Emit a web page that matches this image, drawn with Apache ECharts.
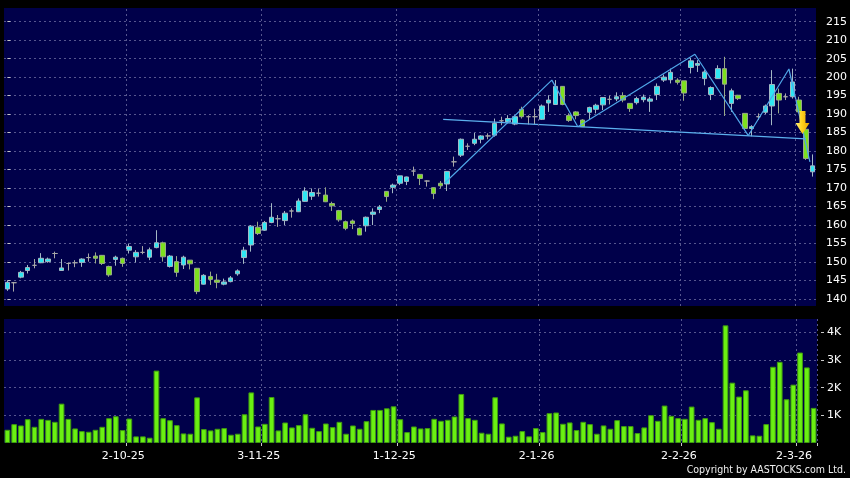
<!DOCTYPE html>
<html><head><meta charset="utf-8">
<script src="https://cdn.jsdelivr.net/npm/echarts@6/dist/echarts.min.js"></script>
<style>html,body{margin:0;padding:0;background:#000;}#c{width:850px;height:478px;}</style>
</head><body><div id="c"></div>
<script>
const dates = [
'5-9-25','8-9-25','9-9-25','10-9-25','11-9-25','12-9-25','15-9-25','16-9-25','17-9-25','18-9-25','19-9-25','22-9-25','23-9-25','24-9-25','25-9-25','26-9-25','29-9-25','30-9-25',
'2-10-25','3-10-25','6-10-25','8-10-25','9-10-25','10-10-25','13-10-25','14-10-25','15-10-25','16-10-25','17-10-25','20-10-25','21-10-25','22-10-25','23-10-25','24-10-25','27-10-25','28-10-25','30-10-25','31-10-25',
'3-11-25','4-11-25','5-11-25','6-11-25','7-11-25','10-11-25','11-11-25','12-11-25','13-11-25','14-11-25','17-11-25','18-11-25','19-11-25','20-11-25','21-11-25','24-11-25','25-11-25','26-11-25','27-11-25','28-11-25',
'1-12-25','2-12-25','3-12-25','4-12-25','5-12-25','8-12-25','9-12-25','10-12-25','11-12-25','12-12-25','15-12-25','16-12-25','17-12-25','18-12-25','19-12-25','22-12-25','23-12-25','24-12-25','29-12-25','30-12-25','31-12-25',
'2-1-26','5-1-26','6-1-26','7-1-26','8-1-26','9-1-26','12-1-26','13-1-26','14-1-26','15-1-26','16-1-26','19-1-26','20-1-26','21-1-26','22-1-26','23-1-26','26-1-26','27-1-26','28-1-26','29-1-26','30-1-26',
'2-2-26','3-2-26','4-2-26','5-2-26','6-2-26','9-2-26','10-2-26','11-2-26','12-2-26','13-2-26','16-2-26','20-2-26','23-2-26','24-2-26','25-2-26','26-2-26','27-2-26',
'2-3-26','3-3-26','4-3-26'];

const opens = [142.7,144.4,145.9,147.7,149.1,149.8,150.1,152.3,147.7,149.6,
149.8,149.9,151.2,151.6,151.8,148.8,150.7,151.0,153.2,151.4,
152.6,151.3,153.9,155.2,148.8,150.1,149.2,150.5,148.3,144.0,
146.1,145.1,144.0,144.7,146.8,151.2,154.6,159.4,158.6,160.7,
161.7,161.2,163.8,163.6,166.4,167.8,168.6,168.1,165.8,163.9,
160.9,161.1,159.1,159.8,162.9,164.2,169.1,170.2,171.3,171.8,
174.6,173.7,171.9,170.1,171.3,171.1,177.1,178.9,181.3,182.1,
183.2,184.1,184.3,188.2,187.9,187.3,191.3,189.3,189.3,188.6,
193.0,192.6,197.5,189.6,190.6,188.4,190.5,191.3,192.5,194.0,
194.1,195.0,192.9,193.1,193.9,193.5,195.3,199.2,199.3,199.2,
199.0,202.6,203.2,199.6,195.3,199.6,202.3,192.9,195.1,190.2,
186.1,189.3,190.5,192.2,195.6,194.7,194.7,193.8,185.9,174.4];

const closes = [144.5,144.4,147.2,148.5,149.1,151.0,150.8,152.3,148.4,149.6,
149.8,150.8,151.2,151.0,149.6,146.5,151.3,149.6,154.2,152.6,
152.6,153.3,155.2,151.4,151.6,147.2,151.3,149.5,142.0,146.4,
145.3,144.5,144.6,145.7,147.6,153.2,159.7,157.7,160.7,162.1,
161.7,163.2,163.8,166.5,169.2,168.8,168.6,166.3,165.2,161.4,
159.1,160.4,157.3,162.1,163.5,164.9,167.7,170.8,173.3,173.0,
174.6,172.6,171.9,168.5,170.6,174.5,177.1,183.2,181.3,183.2,
184.1,184.1,187.5,188.2,188.8,189.3,189.3,189.3,189.3,192.2,
193.8,197.5,192.6,188.3,189.6,186.6,191.8,192.4,194.5,194.0,
194.7,193.8,191.5,194.2,194.6,194.1,197.5,200.0,201.3,198.6,
195.7,204.4,203.7,201.4,197.2,202.3,198.1,196.3,194.2,186.1,
186.6,189.3,192.2,198.0,193.8,194.7,198.7,190.6,178.0,176.0];

const lows = [142.2,142.0,145.6,146.9,148.3,149.7,149.8,151.0,147.7,147.7,
148.6,148.7,150.1,149.6,149.2,146.0,149.0,148.7,152.3,149.9,
152.1,150.5,153.7,150.1,148.5,146.0,148.1,148.0,141.3,143.9,
143.8,142.9,143.7,144.5,146.3,149.5,152.8,157.3,158.4,160.5,
159.5,160.0,162.0,163.5,166.3,166.8,167.7,166.2,163.8,160.9,
158.6,158.9,157.3,158.2,160.0,163.2,166.3,168.6,170.8,170.8,
173.3,170.8,170.4,167.0,169.9,169.2,175.8,178.4,180.3,181.6,
182.1,183.2,183.9,187.0,187.5,187.0,188.8,187.2,187.2,188.4,
190.6,192.6,192.4,187.9,188.6,186.5,188.4,190.2,191.1,192.6,
193.5,193.2,190.6,192.6,193.2,190.6,193.8,198.7,198.3,198.0,
193.6,201.0,201.4,197.8,193.8,199.5,189.5,190.6,193.8,185.7,
184.0,188.4,190.0,187.0,190.2,193.8,194.2,190.2,177.6,173.1];

const highs = [145.0,144.6,147.6,149.2,150.8,152.4,151.2,152.8,150.8,149.9,
150.5,151.0,152.3,152.6,151.9,149.0,151.7,151.2,155.0,153.2,
154.3,153.9,158.6,155.5,151.9,151.6,151.7,150.5,148.4,146.7,
147.4,146.8,145.5,146.2,148.0,154.1,160.0,160.9,161.1,165.9,
162.7,163.8,164.5,167.2,170.2,169.9,169.9,170.2,166.3,164.1,
161.2,161.5,159.3,162.3,164.5,165.4,169.2,171.2,173.3,173.1,
175.8,173.8,172.1,170.2,171.9,174.6,178.5,183.4,182.1,184.9,
184.3,184.8,188.8,189.3,189.7,189.7,192.0,189.7,191.5,192.6,
195.1,199.2,197.6,190.2,190.8,188.6,192.0,192.8,194.6,195.0,
195.9,195.9,192.9,194.7,195.3,194.7,198.3,200.7,202.3,199.7,
199.0,205.2,204.6,201.9,197.5,203.2,205.5,196.9,195.2,190.3,
187.0,190.2,192.6,201.9,196.9,195.6,202.3,194.7,186.0,179.1];

const volumes = [478,681,633,860,585,872,836,765,1422,872,
526,430,406,478,585,896,968,466,884,239,
239,191,2616,896,824,645,346,335,1649,502,
454,514,538,299,335,1039,1828,597,693,1661,
454,741,562,645,1039,550,430,705,573,765,
335,633,514,789,1195,1195,1254,1326,860,394,
597,526,538,874,802,838,958,1772,898,838,
371,335,1653,707,228,263,431,240,539,395,
1078,1102,695,743,467,766,683,335,635,515,
826,611,611,359,563,1006,802,1353,982,898,
874,1317,838,898,754,515,4251,2180,1677,1904,
275,263,683,2754,2934,1581,2108,3269,2731,1269];

const priceTicks = [140,145,150,155,160,165,170,175,180,185,190,195,200,205,210,215];
const volumeTicks = [1000,2000,3000,4000];

// trend lines: [bar position, price]
const neckline = [[64.4,188.6],[118.0,183.3]];
const zigzag = [[64.6,171.3],[80.46,199.2],[84.3,186.6],[101.6,206.2],[109.5,184.2],[115.5,202.2],[118.6,177.1]];
const arrowMark = [[117.5,187.7]];

const monthStart = (i) => i > 0 && dates[i].split('-')[1] !== dates[i-1].split('-')[1];
// boundary positions (left edge of the first bar of each month)
const monthEdges = dates.map((d, i) => i).filter(monthStart).map((i) => i - 0.5);

const gridColor = '#56568e';
const navy = '#00004a';
const font = 'DejaVu Sans';

const chart = echarts.init(document.getElementById('c'), null, {renderer: 'canvas'});
chart.setOption({
  backgroundColor: '#000000',
  animation: false,
  grid: [
    {left: 4, right: 33, top: 8, height: 298, show: true, backgroundColor: navy, borderWidth: 0},
    {left: 4, right: 33, top: 319, height: 124, show: true, backgroundColor: navy, borderWidth: 0}
  ],
  xAxis: [
    {type: 'category', gridIndex: 0, data: dates, boundaryGap: true, show: false,
     axisLine: {show: false}, axisTick: {show: false}, axisLabel: {show: false},
     splitLine: {show: false}},
    {type: 'category', gridIndex: 1, data: dates, boundaryGap: true, offset: 3,
     axisLine: {show: false},
     axisTick: {show: true, interval: monthStart, length: 3, lineStyle: {color: '#c8c8c8'}},
     axisLabel: {show: true, interval: monthStart, color: '#ffffff', fontSize: 11, fontFamily: font, margin: 5, padding: [0, 12, 0, 0]},
     splitLine: {show: true, interval: monthStart, lineStyle: {color: gridColor, type: [2, 3], width: 1}}},
    {type: 'value', gridIndex: 0, min: -0.5, max: dates.length - 0.5, show: false,
     axisLine: {show: false}, axisTick: {show: false}, axisLabel: {show: false},
     splitLine: {show: false}, splitArea: {show: false}}
  ],
  yAxis: [
    {type: 'value', gridIndex: 0, position: 'right', min: 138.1, max: 218.7, offset: 4,
     axisLine: {show: false},
     axisTick: {show: true, length: 3, customValues: priceTicks, lineStyle: {color: '#c8c8c8'}},
     axisLabel: {customValues: priceTicks, margin: 6, color: '#ffffff', fontSize: 11, fontFamily: font},
     splitLine: {show: true, lineStyle: {color: gridColor, type: [2, 3], width: 1}}},
    {type: 'value', gridIndex: 1, position: 'right', min: 0, max: 4480, offset: 4,
     axisLine: {show: false},
     axisTick: {show: true, length: 3, customValues: volumeTicks, lineStyle: {color: '#c8c8c8'}},
     axisLabel: {customValues: volumeTicks, margin: 6, color: '#ffffff', fontSize: 11, fontFamily: font,
                 formatter: (v) => (v / 1000) + 'K'},
     splitLine: {show: true, lineStyle: {color: gridColor, type: [2, 3], width: 1}}}
  ],
  series: [
    {type: 'line', xAxisIndex: 2, yAxisIndex: 0, data: [], z: 1, silent: true,
     markLine: {symbol: 'none', silent: true, animation: false, label: {show: false},
                lineStyle: {color: gridColor, type: [2, 3], width: 1},
                data: monthEdges.map((v) => ({xAxis: v}))}},
    {type: 'candlestick', xAxisIndex: 0, yAxisIndex: 0, barWidth: 5, z: 3,
     data: dates.map((d, i) => [opens[i], closes[i], lows[i], highs[i]]),
     itemStyle: {color: '#2ee6f2', color0: '#7de01e', borderColor: '#a4b8c4', borderColor0: '#98a88a',
                 borderColorDoji: '#a8a8a8', borderWidth: 1}},
    {type: 'bar', xAxisIndex: 1, yAxisIndex: 1, barWidth: '84%', data: volumes,
     itemStyle: {color: '#6af012', borderColor: '#3f9a10', borderWidth: 1}},
    {type: 'line', xAxisIndex: 2, yAxisIndex: 0, data: neckline, symbol: 'none', z: 4,
     lineStyle: {color: '#5cb0ee', width: 1.3}, silent: true},
    {type: 'line', xAxisIndex: 2, yAxisIndex: 0, data: zigzag, symbol: 'none', z: 4,
     lineStyle: {color: '#4fa6e8', width: 1.2}, silent: true},
    {type: 'scatter', xAxisIndex: 2, yAxisIndex: 0, data: arrowMark, z: 5,
     symbol: 'path://M4,0 L10,0 L10,12 L14,12 L7,23 L0,12 L4,12 Z', symbolSize: [14, 23],
     itemStyle: {opacity: 1, color: new echarts.graphic.LinearGradient(0, 0, 1, 0, [
       {offset: 0, color: '#fff07a'}, {offset: 0.45, color: '#ffd21e'}, {offset: 1, color: '#e8a400'}])},
     silent: true}
  ],
  graphic: [
    {type: 'text', x: 846, y: 465, scaleX: 0.86,
     style: {text: 'Copyright by AASTOCKS.com Ltd.', fill: '#f0f0f0', font: '11px "DejaVu Sans"', textAlign: 'right'}}
  ]
});
</script></body></html>
